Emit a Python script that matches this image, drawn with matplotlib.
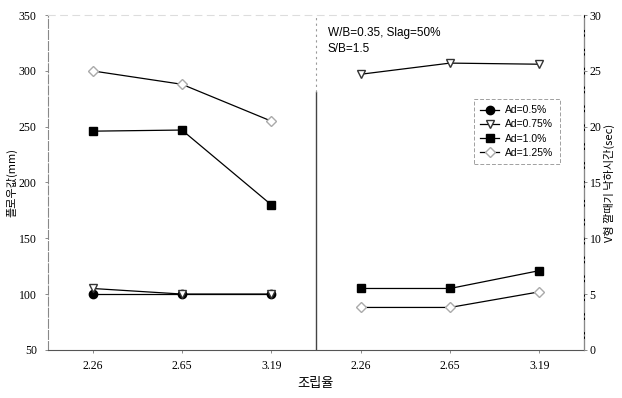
import numpy as np
import matplotlib.pyplot as plt

plt.rcParams['font.family'] = ['Liberation Serif', 'Noto Sans CJK KR']

# 조립율 (fineness modulus) - two groups on a shared x axis
fm_labels = ['2.26', '2.65', '3.19', '2.26', '2.65', '3.19']
legend_names = ['Ad=0.5%', 'Ad=0.75%', 'Ad=1.0%', 'Ad=1.25%']

# slump flow (mm), left group
flow_05 = [100, 100, 100]
flow_075 = [105, 100, 100]
flow_10 = [246, 247, 180]
flow_125 = [300, 288, 255]

# V-funnel time (sec), right group
vtime_075 = [24.7, 25.7, 25.6]
vtime_10 = [5.5, 5.5, 7.1]
vtime_125 = [3.8, 3.8, 5.2]

x_left = np.arange(3)
x_right = np.arange(3, 6)

fig = plt.figure(figsize=(6.22, 3.98), dpi=100)
ax = fig.add_axes([0.077, 0.121, 0.862, 0.841])
ax2 = ax.twinx()

styles = [
    dict(marker='o', mfc='black', mec='black', ms=6),
    dict(marker='v', mfc='white', mec='#333333', ms=6),
    dict(marker='s', mfc='black', mec='black', ms=6),
    dict(marker='D', mfc='white', mec='#aaaaaa', ms=5),
]

for vals, st, name in zip([flow_05, flow_075, flow_10, flow_125], styles, legend_names):
    ax.plot(x_left, vals, color='black', lw=0.9, label=name, **st)

for vals, st in zip([vtime_075, vtime_10, vtime_125], styles[1:]):
    ax2.plot(x_right, vals, color='black', lw=0.9, **st)

ax.set_xlim(-0.5, 5.5)
ax.set_ylim(50, 350)
ax.set_yticks(np.arange(50, 351, 50))
ax2.set_ylim(0, 30)
ax2.set_yticks(np.arange(0, 31, 5))
ax.set_xticks(np.arange(6))
ax.set_xticklabels(fm_labels)

# divider between the two groups
ax.plot([2.5, 2.5], [50, 281], color='#444444', lw=1.0)
ax.plot([2.5, 2.5], [281, 350], color='#999999', lw=0.8, ls=(0, (2, 3)))

for a in (ax, ax2):
    a.tick_params(axis='both', labelsize=8.5, length=2, width=0.6, color='#777777')
    for s in a.spines.values():
        s.set_linewidth(0.8)
ax.tick_params(axis='y', pad=6)
ax.tick_params(axis='x', pad=5)
ax2.tick_params(axis='y', pad=2)
ax.spines['left'].set_color('#888888')
ax.spines['left'].set_linestyle((0, (8, 2)))
ax.spines['bottom'].set_color('#555555')
ax.spines['top'].set_color('#dddddd')
ax.spines['top'].set_linestyle((0, (6, 5)))
ax2.spines['top'].set_visible(False)
ax2.spines['left'].set_visible(False)
ax2.spines['bottom'].set_visible(False)
ax2.spines['right'].set_color('#888888')
ax2.spines['right'].set_linestyle((0, (10, 3, 1, 3)))

ax.set_ylabel('플로우값(mm)', fontsize=8, family=['Noto Sans CJK KR'], labelpad=1)
ax2.set_ylabel('V형 깔때기 낙하시간(sec)', fontsize=8, family=['Noto Sans CJK KR'], labelpad=2)
ax.set_xlabel('조립율', fontsize=9.5, family=['Noto Sans CJK KR'], labelpad=4)

ax.text(0.522, 0.965, 'W/B=0.35, Slag=50%\nS/B=1.5', transform=ax.transAxes,
        fontsize=8.5, family=['Liberation Sans'], va='top', ha='left', linespacing=1.5)

leg = ax.legend(loc='upper left', bbox_to_anchor=(0.785, 0.765),
                prop={'family': 'Liberation Sans', 'size': 7.5}, frameon=True,
                fancybox=False, edgecolor='#888888', handlelength=1.8,
                handletextpad=0.6, labelspacing=0.4, borderpad=0.6)
leg.get_frame().set_linewidth(0.7)
leg.get_frame().set_linestyle((0, (4, 2)))

fig.savefig('out.png', dpi=100)
